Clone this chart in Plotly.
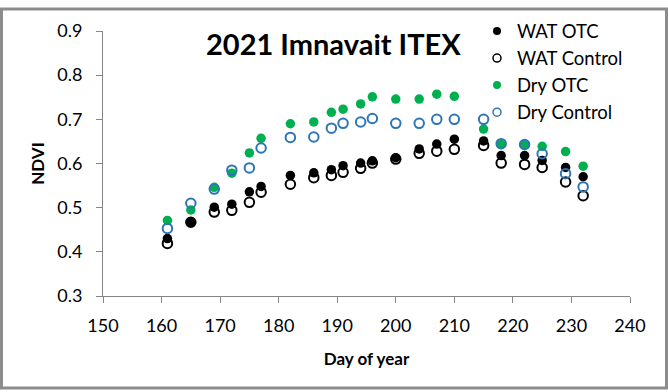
import plotly.graph_objects as go

# Data
days = [161, 165, 169, 172, 175, 177, 182, 186, 189, 191, 194, 196,
        200, 204, 207, 210, 215, 218, 222, 225, 229, 232]
wat_otc = [0.430, 0.468, 0.501, 0.508, 0.536, 0.548, 0.573, 0.579, 0.586, 0.595, 0.601, 0.606,
           0.613, 0.633, 0.644, 0.655, 0.651, 0.618, 0.618, 0.607, 0.591, 0.570]
wat_control = [0.419, 0.467, 0.490, 0.494, 0.512, 0.535, 0.553, 0.568, 0.573, 0.580, 0.589, 0.601,
               0.610, 0.623, 0.628, 0.632, 0.641, 0.601, 0.598, 0.591, 0.558, 0.527]
dry_otc = [0.471, 0.495, 0.546, 0.578, 0.624, 0.657, 0.690, 0.694, 0.716, 0.723, 0.735, 0.751,
           0.746, 0.746, 0.757, 0.752, 0.678, 0.643, 0.643, 0.639, 0.627, 0.594]
dry_control = [0.453, 0.510, 0.542, 0.585, 0.590, 0.635, 0.659, 0.660, 0.680, 0.691, 0.694, 0.702,
               0.691, 0.691, 0.700, 0.700, 0.700, 0.645, 0.643, 0.622, 0.577, 0.547]

series_names = ["WAT OTC", "WAT Control", "Dry OTC", "Dry Control"]
x_ticks = [150, 160, 170, 180, 190, 200, 210, 220, 230, 240]
y_ticks = [0.3, 0.4, 0.5, 0.6, 0.7, 0.8, 0.9]
title_text = "2021 Imnavait ITEX"

GREEN = "#00B050"
BLUE = "#2E75B6"
FONT = "Lato"

styles = {
    "WAT OTC": dict(symbol="circle", color="black", line=dict(width=0)),
    "WAT Control": dict(symbol="circle-open", color="black", line=dict(width=2, color="black")),
    "Dry OTC": dict(symbol="circle", color=GREEN, line=dict(width=0)),
    "Dry Control": dict(symbol="circle-open", color=BLUE, line=dict(width=2, color=BLUE)),
}
values = {"WAT OTC": wat_otc, "WAT Control": wat_control,
          "Dry OTC": dry_otc, "Dry Control": dry_control}

fig = go.Figure()

# legend-only entries (in legend order)
for name in series_names:
    st = styles[name]
    lw = 1.5 if "open" in st["symbol"] else 0
    fig.add_trace(go.Scatter(
        x=[None], y=[None], mode="markers", name=name, showlegend=True,
        marker=dict(symbol=st["symbol"], color=st["color"], size=8,
                    line=dict(width=lw, color=st["color"])),
    ))

# data traces (draw order)
for name in ["WAT Control", "WAT OTC", "Dry OTC", "Dry Control"]:
    st = styles[name]
    fig.add_trace(go.Scatter(
        x=days, y=values[name], mode="markers", name=name, showlegend=False,
        marker=dict(symbol=st["symbol"], color=st["color"], size=9.5, line=st["line"]),
    ))

W, H = 668, 392
ml, mr, mt, mb = 103, 38, 24, 96
pw, ph = W - ml - mr, H - mt - mb

def px_x(x):
    return (x - ml) / pw

def px_y(y):
    return (H - mb - y) / ph

axis_common = dict(
    showgrid=False, zeroline=False, showline=True, linecolor="#868686", linewidth=1,
    ticks="outside", ticklen=6, tickcolor="#868686", tickwidth=1,
    tickfont=dict(family=FONT, size=18, color="black"),
    mirror=False,
)

fig.update_layout(
    width=W, height=H,
    margin=dict(l=ml, r=mr, t=mt, b=mb),
    paper_bgcolor="white", plot_bgcolor="white",
    font=dict(family=FONT, color="black"),
    xaxis=dict(range=[150, 240], tickvals=x_ticks, ticktext=[str(v) for v in x_ticks],
               title=dict(text="<b>Day of year</b>", font=dict(family=FONT, size=17), standoff=18),
               ticklabelstandoff=7,
               **axis_common),
    yaxis=dict(range=[0.3, 0.9], tickvals=y_ticks, ticktext=[f"{v:.1f}" for v in y_ticks],
               title=dict(text="<b>NDVI</b>", font=dict(family=FONT, size=17), standoff=8),
               ticklabelstandoff=10,
               **axis_common),
    legend=dict(x=px_x(477), y=px_y(5), xanchor="left", yanchor="top",
                font=dict(family=FONT, size=18.5, color="black"),
                bgcolor="rgba(0,0,0,0)", tracegroupgap=0, itemwidth=30),
    showlegend=True,
    annotations=[dict(text="<b>" + title_text + "</b>", x=px_x(333.5), y=px_y(37),
                      xref="paper", yref="paper", xanchor="center", yanchor="middle",
                      showarrow=False, font=dict(family=FONT, size=29, color="black"))],
    shapes=[dict(type="rect", xref="paper", yref="paper",
                 x0=px_x(1.5), x1=px_x(W - 1.5), y0=px_y(H - 1.5), y1=px_y(1.5),
                 line=dict(color="#8C8C8C", width=3), layer="below")],
)

fig.write_html(
    "out.html",
    config={"displayModeBar": False},
    post_script=("document.documentElement.style.margin='0';"
                 "document.documentElement.style.overflow='hidden';"
                 "document.body.style.margin='0';document.body.style.overflow='hidden';"),
)
